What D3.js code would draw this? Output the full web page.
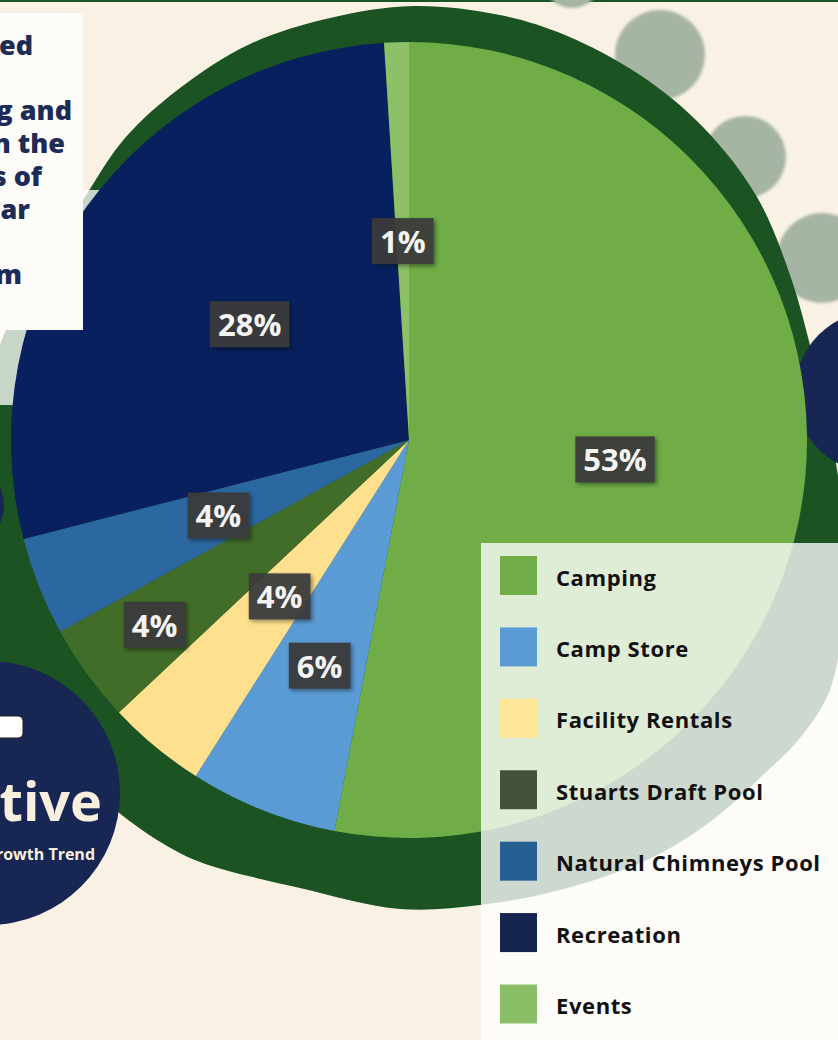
<!DOCTYPE html>
<html>
<head>
    <meta charset='utf-8'>
    <title>Revenue Share</title>
    <script src='https://cdn.jsdelivr.net/npm/d3@7/dist/d3.min.js'></script>
    <style>
        body { margin: 0; background: #F9F2E4; }
        svg { display: block; }
    </style>
</head>
<body>
    <svg width='838' height='1040'></svg>
    <script>
        // chart data
        const categories = ['Camping', 'Camp Store', 'Facility Rentals', 'Stuarts Draft Pool',
            'Natural Chimneys Pool', 'Recreation', 'Events']
        const shares = [53, 6, 4, 4, 4, 28, 1]
        const pieColors = ['#70AD47', '#5B9BD5', '#FEE08E', '#416D29', '#2B67A0', '#08215E', '#8CC168']
        const legendColors = ['#70AD47', '#5B9BD5', '#FFE699', '#44523A', '#255E91', '#16254F', '#8BBF67']
        // how far out each percentage label sits (fraction of radius)
        const labelDepth = [0.52, 0.61, 0.51, 0.79, 0.515, 0.495, 0.5]

        // decoration text (cut off by the page edge in the original)
        const introLines = [
            { t: 'has steadily increased', end: 33 },
            { t: '', end: 0 },
            { t: 'driven by camping and', end: 72 },
            { t: 'within the', end: 65 },
            { t: 'categories of', end: 42 },
            { t: 'this year', end: 30 },
            { t: '', end: 0 },
            { t: 'from', end: 22 }
        ]

        const data = categories.map((c, i) => ({ name: c, value: shares[i], i: i }))

        const svg = d3.select('svg')
        const defs = svg.append('defs')
        defs.append('filter').attr('id', 'soft')
            .append('feGaussianBlur').attr('stdDeviation', 1.6)
        defs.append('filter').attr('id', 'shadow')
            .attr('x', '-30%').attr('y', '-30%').attr('width', '160%').attr('height', '160%')
            .append('feDropShadow').attr('dx', 2).attr('dy', 2).attr('stdDeviation', 2)
            .attr('flood-color', '#000').attr('flood-opacity', 0.45)

        // background
        svg.append('rect').attr('width', 838).attr('height', 1040).attr('fill', '#F9F2E4')
        svg.append('rect').attr('width', 838).attr('height', 2).attr('fill', '#1B5424')

        // blurred grey bubbles
        const bubbles = [[572, -22, 30], [660, 55, 45], [745, 157, 41], [822, 258, 45]]
        svg.append('g').selectAll('circle').data(bubbles).join('circle')
            .attr('cx', d => d[0]).attr('cy', d => d[1]).attr('r', d => d[2])
            .attr('fill', '#A6B4A4').attr('filter', 'url(#soft)')

        // dark green band on the left
        svg.append('rect').attr('x', 0).attr('y', 405).attr('width', 420).attr('height', 380)
            .attr('fill', '#1B5424')

        // green frame around the pie
        const ringPts = [[413, 6], [500, 15], [565, 35], [640, 75], [703, 127], [757, 197], [790, 275],
            [810, 345], [832, 440], [845, 540], [843, 615], [830, 690], [800, 738], [763, 775], [710, 822],
            [647, 860], [560, 890], [480, 905], [400, 909], [300, 888], [200, 862], [157, 840],
            [118, 812], [70, 770], [30, 712], [5, 640], [-10, 560], [-15, 480], [-10, 410],
            [0, 345], [40, 270], [83, 200], [125, 138], [180, 88], [250, 44], [330, 18]]
        svg.append('path')
            .attr('d', d3.line().curve(d3.curveCatmullRomClosed)(ringPts))
            .attr('fill', '#1B5322')

        // pale veil on the left part of the frame
        svg.append('rect').attr('x', 0).attr('y', 190).attr('width', 140).attr('height', 215)
            .attr('fill', '#fff').attr('opacity', 0.76)

        // navy bubbles at the edges
        svg.append('circle').attr('cx', 876).attr('cy', 392).attr('r', 81).attr('fill', '#172652')
        svg.append('circle').attr('cx', -40).attr('cy', 505).attr('r', 44).attr('fill', '#172652')

        // pie
        const cx = 409, cy = 440, R = 398
        const pie = d3.pie().value(d => d.value).sort(null)
        const arcs = pie(data)
        const arc = d3.arc().innerRadius(0).outerRadius(R)
        const color = d3.scaleOrdinal().domain(categories).range(pieColors)

        const pieG = svg.append('g').attr('transform', `translate(${cx},${cy})`)
        pieG.selectAll('path').data(arcs).join('path')
            .attr('d', arc)
            .attr('fill', d => color(d.data.name))

        // percentage tags
        const tags = pieG.selectAll('g.tag').data(arcs).join('g')
            .attr('class', 'tag')
            .attr('transform', d => {
                const k = R * labelDepth[d.data.i]
                const c = d3.arc().innerRadius(k).outerRadius(k).centroid(d)
                return `translate(${c})`
            })
        tags.append('text')
            .attr('text-anchor', 'middle')
            .attr('dominant-baseline', 'central')
            .attr('font-family', 'Open Sans, sans-serif')
            .attr('font-weight', 700)
            .attr('font-size', 31)
            .attr('fill', '#F4F4F4')
            .text(d => d.data.value + '%')
            .each(function () {
                const b = this.getBBox()
                d3.select(this.parentNode).insert('rect', 'text')
                    .attr('x', -b.width / 2 - 8).attr('y', -23)
                    .attr('width', b.width + 16).attr('height', 46)
                    .attr('fill', '#3A3A3A').attr('opacity', 0.95)
                    .attr('filter', 'url(#shadow)')
            })

        // legend
        svg.append('rect').attr('x', 481).attr('y', 543).attr('width', 360).attr('height', 500)
            .attr('fill', '#fff').attr('opacity', 0.78)

        const ly = d3.scalePoint().domain(categories).range([575.5, 1004])
        const lcol = d3.scaleOrdinal().domain(categories).range(legendColors)
        const leg = svg.append('g').selectAll('g').data(categories).join('g')
            .attr('transform', d => `translate(500,${ly(d)})`)
        leg.append('rect').attr('x', 0).attr('y', -19.5).attr('width', 37).attr('height', 39)
            .attr('fill', d => lcol(d))
        leg.append('text').attr('x', 56).attr('y', 1)
            .attr('dominant-baseline', 'central')
            .attr('font-family', 'Open Sans, sans-serif')
            .attr('font-weight', 700)
            .attr('font-size', 22)
            .attr('letter-spacing', 0.6)
            .attr('fill', '#111')
            .text(d => d)

        // intro text box, top left
        svg.append('rect').attr('x', 0).attr('y', 13).attr('width', 83).attr('height', 317)
            .attr('fill', '#FDFCF8')
        svg.append('g').selectAll('text').data(introLines).join('text')
            .attr('x', d => d.end)
            .attr('y', (d, i) => 55 + i * 32.7)
            .attr('text-anchor', 'end')
            .attr('font-family', 'Open Sans, sans-serif')
            .attr('font-weight', 800)
            .attr('font-size', 27)
            .attr('fill', '#1D2B57')
            .text(d => d.t)

        // navy badge, bottom left
        svg.append('circle').attr('cx', -12).attr('cy', 793).attr('r', 132).attr('fill', '#172652')
        svg.append('rect').attr('x', -40).attr('y', 716).attr('width', 63).attr('height', 22).attr('rx', 5)
            .attr('fill', '#fff').attr('stroke', '#222').attr('stroke-width', 1)
        svg.append('text').attr('x', 102).attr('y', 821)
            .attr('text-anchor', 'end')
            .attr('font-family', 'Open Sans, sans-serif').attr('font-weight', 700).attr('font-size', 54)
            .attr('fill', '#F8EFDF')
            .text('Positive')
        svg.append('text').attr('x', 95).attr('y', 860)
            .attr('text-anchor', 'end')
            .attr('font-family', 'Open Sans, sans-serif').attr('font-weight', 700).attr('font-size', 16)
            .attr('fill', '#F8EFDF')
            .text('Revenue Growth Trend')
    </script>
</body>
</html>
